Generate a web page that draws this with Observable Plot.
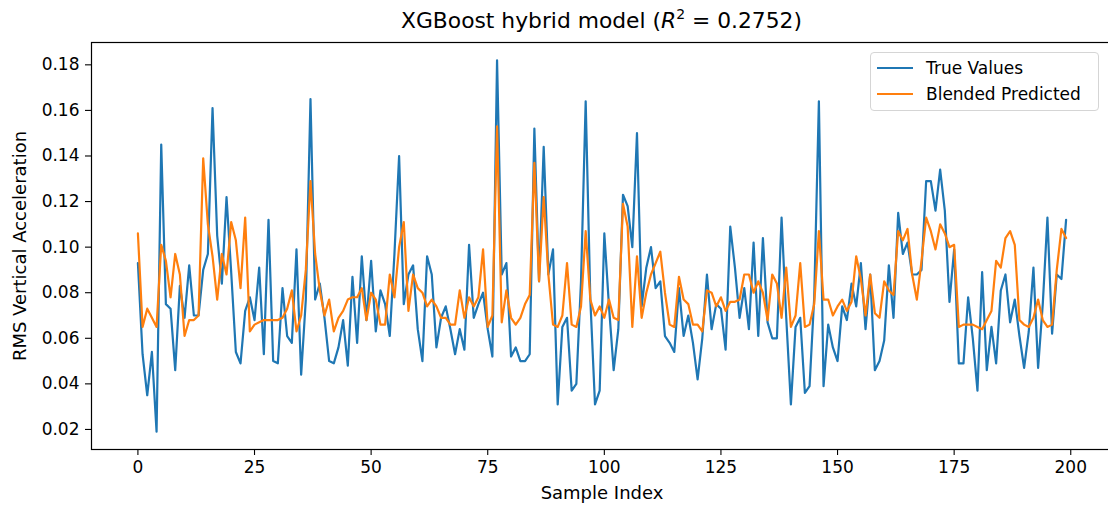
<!DOCTYPE html>
<html>
<head>
<meta charset="utf-8">
<script src="https://cdn.jsdelivr.net/npm/d3@7"></script>
<script src="https://cdn.jsdelivr.net/npm/@observablehq/plot@0.6"></script>
<style>
  html, body { margin: 0; padding: 0; background: #fff; overflow: hidden; }
  #wrap { position: relative; width: 1108px; height: 505px; overflow: hidden; font-family: "DejaVu Sans", sans-serif; }
  #title { position: absolute; left: 91px; width: 1021px; top: 8px; text-align: center; font-size: 21.8px; line-height: 26px; color: #000; white-space: nowrap; }
  #title sup { font-size: 14px; line-height: 0; position: relative; top: -1px; }
  #chart { position: absolute; left: 0; top: 40px; }
  #legend { position: absolute; left: 870px; top: 52px; width: 229px; height: 59px; box-sizing: border-box;
            border: 1px solid #d5d5d5; border-radius: 4px; background: rgba(255,255,255,0.8); font-size: 17px; color: #000; }
  .row { position: absolute; left: 6px; height: 20px; display: flex; align-items: center; white-space: nowrap; }
  .row svg { display: block; margin-right: 13px; }
</style>
</head>
<body>
<div id="wrap">
  <div id="title">XGBoost hybrid model (<i>R</i><sup>2</sup> = 0.2752)</div>
  <div id="chart"></div>
  <div id="legend"></div>
</div>
<script>
const xTicks = [0, 25, 50, 75, 100, 125, 150, 175, 200];
const yTicks = [0.02, 0.04, 0.06, 0.08, 0.10, 0.12, 0.14, 0.16, 0.18];
const seriesNames = ["True Values", "Blended Predicted"];
const seriesColors = ["#1f77b4", "#ff7f0e"];

const trueValues = [
  0.093, 0.053, 0.035, 0.054, 0.019, 0.145, 0.075, 0.073, 0.046, 0.083,
  0.069, 0.092, 0.070, 0.070, 0.090, 0.097, 0.161, 0.105, 0.084, 0.122,
  0.089, 0.054, 0.049, 0.072, 0.078, 0.068, 0.091, 0.053, 0.112, 0.050,
  0.049, 0.082, 0.061, 0.058, 0.099, 0.044, 0.077, 0.165, 0.077, 0.084,
  0.069, 0.050, 0.049, 0.056, 0.068, 0.048, 0.087, 0.058, 0.096, 0.068,
  0.094, 0.063, 0.081, 0.075, 0.061, 0.097, 0.140, 0.075, 0.088, 0.092,
  0.064, 0.050, 0.096, 0.088, 0.056, 0.069, 0.074, 0.064, 0.053, 0.064,
  0.055, 0.101, 0.069, 0.075, 0.080, 0.064, 0.052, 0.182, 0.088, 0.093,
  0.052, 0.056, 0.050, 0.050, 0.053, 0.152, 0.085, 0.144, 0.088, 0.099,
  0.031, 0.065, 0.069, 0.037, 0.040, 0.085, 0.164, 0.077, 0.031, 0.037,
  0.106, 0.074, 0.046, 0.064, 0.123, 0.118, 0.100, 0.150, 0.074, 0.091,
  0.100, 0.082, 0.085, 0.061, 0.058, 0.054, 0.082, 0.061, 0.070, 0.058,
  0.042, 0.060, 0.088, 0.064, 0.075, 0.073, 0.055, 0.109, 0.091, 0.069,
  0.082, 0.064, 0.102, 0.061, 0.104, 0.067, 0.060, 0.060, 0.113, 0.069,
  0.031, 0.065, 0.069, 0.036, 0.039, 0.078, 0.164, 0.039, 0.066, 0.056,
  0.050, 0.074, 0.068, 0.084, 0.074, 0.093, 0.064, 0.088, 0.046, 0.050,
  0.059, 0.092, 0.069, 0.115, 0.097, 0.102, 0.088, 0.088, 0.090, 0.129,
  0.129, 0.116, 0.134, 0.116, 0.076, 0.099, 0.049, 0.049, 0.078, 0.060,
  0.037, 0.089, 0.046, 0.065, 0.049, 0.081, 0.088, 0.067, 0.077, 0.061,
  0.047, 0.063, 0.091, 0.047, 0.075, 0.113, 0.062, 0.088, 0.086, 0.112
];

const predictedValues = [
  0.106, 0.065, 0.073, 0.069, 0.065, 0.101, 0.094, 0.078, 0.097, 0.088,
  0.061, 0.068, 0.068, 0.070, 0.139, 0.110, 0.096, 0.077, 0.097, 0.088,
  0.111, 0.103, 0.082, 0.113, 0.063, 0.066, 0.067, 0.068, 0.068, 0.068,
  0.068, 0.069, 0.073, 0.081, 0.063, 0.070, 0.090, 0.129, 0.097, 0.081,
  0.070, 0.077, 0.063, 0.069, 0.072, 0.077, 0.078, 0.078, 0.082, 0.068,
  0.080, 0.077, 0.066, 0.066, 0.088, 0.078, 0.100, 0.111, 0.072, 0.088,
  0.082, 0.080, 0.074, 0.077, 0.074, 0.069, 0.069, 0.066, 0.066, 0.081,
  0.069, 0.078, 0.074, 0.078, 0.099, 0.065, 0.070, 0.153, 0.067, 0.081,
  0.069, 0.066, 0.069, 0.075, 0.079, 0.137, 0.085, 0.122, 0.088, 0.066,
  0.065, 0.070, 0.093, 0.066, 0.065, 0.074, 0.107, 0.077, 0.070, 0.074,
  0.069, 0.077, 0.069, 0.068, 0.119, 0.109, 0.065, 0.096, 0.069, 0.080,
  0.088, 0.093, 0.098, 0.080, 0.066, 0.065, 0.087, 0.077, 0.075, 0.066,
  0.066, 0.063, 0.081, 0.080, 0.074, 0.078, 0.072, 0.076, 0.076, 0.077,
  0.088, 0.088, 0.080, 0.085, 0.080, 0.068, 0.088, 0.084, 0.069, 0.091,
  0.065, 0.070, 0.093, 0.065, 0.066, 0.075, 0.107, 0.077, 0.077, 0.070,
  0.074, 0.077, 0.072, 0.076, 0.096, 0.086, 0.070, 0.088, 0.071, 0.069,
  0.085, 0.081, 0.079, 0.107, 0.103, 0.108, 0.088, 0.077, 0.094, 0.113,
  0.107, 0.099, 0.110, 0.106, 0.100, 0.101, 0.065, 0.066, 0.066, 0.066,
  0.065, 0.064, 0.068, 0.072, 0.094, 0.091, 0.104, 0.107, 0.101, 0.068,
  0.066, 0.065, 0.069, 0.077, 0.068, 0.065, 0.066, 0.090, 0.108, 0.104
];

const font = "DejaVu Sans";

const plot = Plot.plot({
  width: 1112,
  height: 465,
  marginLeft: 91,
  marginRight: 0,
  marginTop: 2,
  marginBottom: 56,
  style: { fontFamily: font, fontSize: "17px", color: "#000", background: "#fff", maxWidth: "none", overflow: "visible" },
  x: { domain: [-9.95, 208.95] },
  y: { domain: [0.0112, 0.1898] },
  marks: [
    Plot.axisX({ ticks: xTicks, tickSize: 6, tickPadding: 5, fontSize: 17, label: null, tickFormat: d => String(d), stroke: "#000", strokeWidth: 1.1 }),
    Plot.axisY({ ticks: yTicks, tickSize: 6, tickPadding: 6, fontSize: 17, label: null, tickFormat: d3.format(".2f"), stroke: "#000", strokeWidth: 1.1 }),
    Plot.lineY(trueValues, { x: (d, i) => i, y: d => d, stroke: seriesColors[0], strokeWidth: 2.2 }),
    Plot.lineY(predictedValues, { x: (d, i) => i, y: d => d, stroke: seriesColors[1], strokeWidth: 2.2 }),
    Plot.frame({ stroke: "#000", strokeWidth: 1.2 }),
    Plot.text(["Sample Index"], { text: d => d, frameAnchor: "bottom", dy: 49, fontSize: 18, fill: "#000" }),
    Plot.text(["RMS Vertical Acceleration"], { text: d => d, frameAnchor: "left", dx: -71, rotate: -90, textAnchor: "middle", fontSize: 18, fill: "#000" })
  ]
});
document.getElementById("chart").appendChild(plot);

const legend = document.getElementById("legend");
seriesNames.forEach((name, k) => {
  const row = document.createElement("div");
  row.className = "row";
  row.style.top = (k === 0 ? 5 : 31) + "px";
  row.innerHTML = `<svg width="36" height="6"><line x1="0" x2="36" y1="3" y2="3" stroke="${seriesColors[k]}" stroke-width="2.2"/></svg><span>${name}</span>`;
  legend.appendChild(row);
});
</script>
</body>
</html>
